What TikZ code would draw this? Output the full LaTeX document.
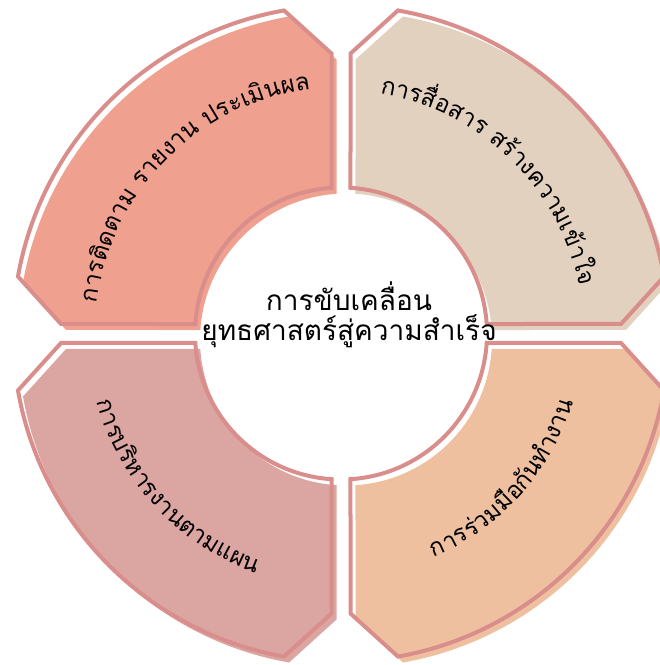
\documentclass[tikz,border=0pt]{standalone}
\usepackage{fontspec}
\newfontfamily\thaifont[Script=Thai]{Loma}
\usetikzlibrary{decorations.text}
\definecolor{edgecol}{HTML}{D98E8C}
\definecolor{fillA}{HTML}{EFA08E}
\definecolor{fillB}{HTML}{E3D1BF}
\definecolor{fillC}{HTML}{DBA5A2}
\definecolor{fillD}{HTML}{EEC0A0}
\tikzset{
  quadfill/.style={xshift=5pt, yshift=-6pt},
  quadedge/.style={draw=edgecol, line width=4pt, line join=miter},
  arclabel/.style={decorate, decoration={text along path, text align=center,
     text format delimiters={|}{|}}},
  centertext/.style={font=\thaifont\fontsize{28}{30}\selectfont, align=center, text=black}
}
\begin{document}
\begin{tikzpicture}[x=1pt,y=1pt]
\useasboundingbox (0,0) rectangle (660,665);
\begin{scope}[shift={(341,331.5)}]
\foreach \rot/\col in {0/fillA,-90/fillB,90/fillC,180/fillD}{
  \fill[\col, quadfill, rotate=\rot]
    (-9.5,280) -- (100:328pt) arc[start angle=100,end angle=170,radius=328pt]
    -- (-280,9.5) -- (176.27:146pt) arc[start angle=176.27,end angle=93.73,radius=146pt] -- cycle;
  \draw[quadedge, rotate=\rot]
    (-9.5,280) -- (100:328pt) arc[start angle=100,end angle=170,radius=328pt]
    -- (-280,9.5) -- (176.27:146pt) arc[start angle=176.27,end angle=93.73,radius=146pt] -- cycle;
}
\path[arclabel, decoration={text={|\thaifont\fontsize{24}{28}\selectfont|การ{ติ}ดตาม รายงาน ประเ{มิ}นผล}}]
  (178:246pt) arc[start angle=178,end angle=92,radius=246pt];
\path[arclabel, decoration={text={|\thaifont\fontsize{24}{28}\selectfont|การ{สื่}อสาร ส{ร้}างความเ{ข้}าใจ}}]
  (89:243pt) arc[start angle=89,end angle=3,radius=243pt];
\path[arclabel, decoration={text={|\thaifont\fontsize{24}{28}\selectfont|การบ{ริ}หารงานตามแผน}}]
  (180:254pt) arc[start angle=180,end angle=266,radius=254pt];
\path[arclabel, decoration={text={|\thaifont\fontsize{24}{28}\selectfont|การ{ร่}วม{มื}อ{กั}น{ทำ}งาน}}]
  (-84:242pt) arc[start angle=-84,end angle=0,radius=242pt];
\end{scope}
\node[centertext] (title) at (349,350) {การขับเคลื่อน\\ยุทธศาสตร์สู่ความสำเร็จ};
\end{tikzpicture}
\end{document}
